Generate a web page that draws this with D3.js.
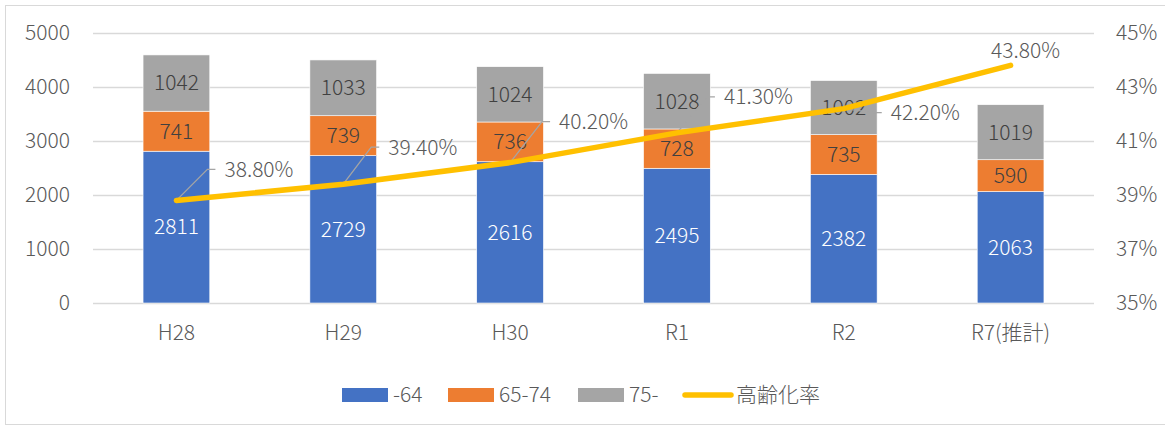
<!DOCTYPE html>
<html><head><meta charset="utf-8">
<script src="https://cdn.jsdelivr.net/npm/d3@7"></script>
<style>
html,body{margin:0;padding:0;background:#fff;}
svg{display:block;}
svg text{font-family:"Noto Sans CJK JP","Noto Sans",sans-serif;font-weight:300;font-size:21px;}
</style></head>
<body><svg id="c" width="1165" height="427"></svg>
<script>
const categories = ["H28","H29","H30","R1","R2","R7(推計)"];
const under64 = [2811,2729,2616,2495,2382,2063];
const age65to74 = [741,739,736,728,735,590];
const over75 = [1042,1033,1024,1028,1002,1019];
const agingRate = [38.8,39.4,40.2,41.3,42.2,43.8];
const leftTicks = [0,1000,2000,3000,4000,5000];
const rightTicks = [35,37,39,41,43,45];
const seriesNames = ["-64","65-74","75-","高齢化率"];
const colors = ["#4472C4","#ED7D31","#A5A5A5","#FFC000"];
// label layout offsets (dx,dy of label anchor relative to point)
const labelOffsets = [[48,-31],[45,-37],[49,-41],[47,-36],[47,4],[15,-15]];

const svg = d3.select("#c");
const W = 1165, H = 427;
const pLeft = 93, pRight = 1094, pTop = 33, pBottom = 303;

svg.append("rect").attr("x",5.5).attr("y",5.5).attr("width",W+10).attr("height",419)
  .attr("fill","#fff").attr("stroke","#d9d9d9").attr("stroke-width",1);

const x = d3.scaleBand().domain(categories).range([pLeft,pRight]).paddingInner(0.6).paddingOuter(0.3);
const y = d3.scaleLinear().domain([0,5000]).range([pBottom,pTop]);
const y2 = d3.scaleLinear().domain([35,45]).range([pBottom,pTop]);

// gridlines
svg.append("g").selectAll("line").data(leftTicks).join("line")
  .attr("x1",pLeft).attr("x2",pRight)
  .attr("y1",d=>y(d)+0.5).attr("y2",d=>y(d)+0.5)
  .attr("stroke","#d9d9d9").attr("stroke-width",1.3);

// axes
const txtColor = "#595959";
function styleAxis(g){
  g.attr("font-family",null).attr("font-size",null);
  g.select(".domain").remove();
  g.selectAll("text").attr("fill",txtColor);
}
svg.append("g").attr("transform",`translate(${pLeft-23},0)`)
  .call(d3.axisLeft(y).tickValues(leftTicks).tickSize(0).tickPadding(0).tickFormat(d=>String(d)))
  .call(styleAxis);

svg.append("g").attr("transform",`translate(${pRight+22},0)`)
  .call(d3.axisRight(y2).tickValues(rightTicks).tickSize(0).tickPadding(0).tickFormat(d=>d+"%"))
  .call(styleAxis);

const axb = svg.append("g").attr("transform",`translate(0,${pBottom+30})`)
  .call(d3.axisBottom(x).tickSize(0).tickPadding(0))
  .call(styleAxis);
axb.selectAll("text").attr("dy","0.32em");

// stacked bars
const rows = categories.map((c,i)=>({cat:c,a:under64[i],b:age65to74[i],c:over75[i]}));
const stack = d3.stack().keys(["a","b","c"])(rows);
const bw = x.bandwidth();
stack.forEach((layer,li)=>{
  const g = svg.append("g");
  g.selectAll("rect").data(layer).join("rect")
    .attr("x",d=>x(d.data.cat)).attr("width",bw)
    .attr("y",d=>y(d[1])).attr("height",d=>y(d[0])-y(d[1]))
    .attr("fill",colors[li]).attr("stroke","#ffffff").attr("stroke-width",0.6);
  g.selectAll("text").data(layer).join("text")
    .attr("x",d=>x(d.data.cat)+bw/2).attr("y",d=>(y(d[0])+y(d[1]))/2)
    .attr("text-anchor","middle").attr("dy","0.35em")
    .attr("fill",li===0?"#ffffff":"#404040")
    .text(d=>d[1]-d[0]);
});

// line
const cx = (i)=>x(categories[i])+bw/2;
const line = d3.line().x((d,i)=>cx(i)).y(d=>y2(d));

// leader lines
const lg = svg.append("g");
agingRate.forEach((v,i)=>{
  if(i===5) return;
  const px = cx(i), py = y2(v);
  const lx = px+labelOffsets[i][0], ly = py+labelOffsets[i][1];
  lg.append("path").attr("d",`M${px},${py}L${lx-17},${ly}L${lx-9},${ly}`)
    .attr("fill","none").attr("stroke","#a5a5a5").attr("stroke-width",1.3);
});

svg.append("path").datum(agingRate).attr("d",line)
  .attr("fill","none").attr("stroke",colors[3]).attr("stroke-width",5.5)
  .attr("stroke-linecap","round").attr("stroke-linejoin","round");

// rate labels
svg.append("g").selectAll("text").data(agingRate).join("text")
  .attr("x",(d,i)=>cx(i)+labelOffsets[i][0])
  .attr("y",(d,i)=>y2(d)+labelOffsets[i][1])
  .attr("text-anchor",(d,i)=>i===5?"middle":"start")
  .attr("dy","0.35em").attr("fill",txtColor)
  .text(d=>d.toFixed(2)+"%");

// legend
const leg = svg.append("g").attr("transform","translate(0,395)");
const legX = [342,448,578,683];
seriesNames.forEach((n,i)=>{
  if(i<3){
    leg.append("rect").attr("x",legX[i]).attr("y",-7).attr("width",46).attr("height",14).attr("fill",colors[i]);
  } else {
    leg.append("line").attr("x1",legX[i]+2).attr("x2",legX[i]+48).attr("y1",0).attr("y2",0)
      .attr("stroke",colors[3]).attr("stroke-width",5.5).attr("stroke-linecap","round");
  }
  leg.append("text").attr("x",legX[i]+(i<3?51:53)).attr("y",0).attr("dy","0.35em")
    .attr("fill",txtColor).text(n);
});
</script></body></html>
